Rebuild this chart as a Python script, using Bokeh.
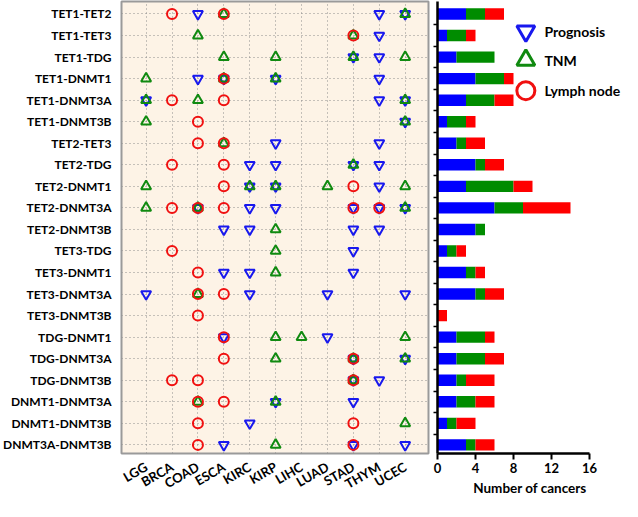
import math
from bokeh.plotting import figure
from bokeh.layouts import row
from bokeh.models import Range1d, FixedTicker, ColumnDataSource
from bokeh.embed import file_html
from bokeh.resources import INLINE
from bokeh.core.properties import value

cancers = ["LGG", "BRCA", "COAD", "ESCA", "KIRC", "KIRP", "LIHC", "LUAD", "STAD", "THYM", "UCEC"]
pairs = ["TET1-TET2", "TET1-TET3", "TET1-TDG", "TET1-DNMT1", "TET1-DNMT3A", "TET1-DNMT3B",
         "TET2-TET3", "TET2-TDG", "TET2-DNMT1", "TET2-DNMT3A", "TET2-DNMT3B",
         "TET3-TDG", "TET3-DNMT1", "TET3-DNMT3A", "TET3-DNMT3B",
         "TDG-DNMT1", "TDG-DNMT3A", "TDG-DNMT3B",
         "DNMT1-DNMT3A", "DNMT1-DNMT3B", "DNMT3A-DNMT3B"]

prognosis = [
    ["COAD", "THYM", "UCEC"],
    ["THYM"],
    ["STAD", "THYM"],
    ["COAD", "ESCA", "KIRP", "THYM"],
    ["LGG", "THYM", "UCEC"],
    ["UCEC"],
    ["KIRP", "THYM"],
    ["KIRC", "KIRP", "STAD", "THYM"],
    ["KIRC", "KIRP", "THYM"],
    ["COAD", "KIRC", "KIRP", "STAD", "THYM", "UCEC"],
    ["ESCA", "KIRC", "STAD", "THYM"],
    ["STAD"],
    ["ESCA", "KIRC", "STAD"],
    ["LGG", "KIRC", "LUAD", "UCEC"],
    [],
    ["ESCA", "LUAD"],
    ["STAD", "UCEC"],
    ["STAD", "THYM"],
    ["KIRP", "STAD"],
    ["KIRC"],
    ["ESCA", "STAD", "UCEC"],
]
tnm = [
    ["ESCA", "UCEC"],
    ["COAD", "STAD"],
    ["ESCA", "KIRP", "STAD", "UCEC"],
    ["LGG", "ESCA", "KIRP"],
    ["LGG", "COAD", "UCEC"],
    ["LGG", "UCEC"],
    ["ESCA"],
    ["STAD"],
    ["LGG", "KIRC", "KIRP", "LUAD", "UCEC"],
    ["LGG", "COAD", "UCEC"],
    ["KIRP"],
    ["KIRP"],
    ["KIRP"],
    ["COAD"],
    [],
    ["KIRP", "LIHC", "UCEC"],
    ["KIRP", "STAD", "UCEC"],
    ["STAD"],
    ["COAD", "KIRP"],
    ["UCEC"],
    ["KIRP"],
]
lymph = [
    ["BRCA", "ESCA"],
    ["STAD"],
    [],
    ["ESCA"],
    ["BRCA", "ESCA"],
    ["COAD"],
    ["COAD", "ESCA"],
    ["BRCA", "ESCA"],
    ["ESCA", "STAD"],
    ["BRCA", "COAD", "ESCA", "STAD", "THYM"],
    [],
    ["BRCA"],
    ["COAD"],
    ["COAD", "ESCA"],
    ["COAD"],
    ["ESCA"],
    ["ESCA", "STAD"],
    ["BRCA", "COAD", "STAD"],
    ["COAD", "ESCA"],
    ["COAD", "STAD"],
    ["COAD", "STAD"],
]

bar_prognosis = [3, 1, 2, 4, 3, 1, 2, 4, 3, 6, 4, 1, 3, 4, 0, 2, 2, 2, 2, 1, 3]
bar_tnm = [2, 2, 4, 3, 3, 2, 1, 1, 5, 3, 1, 1, 1, 1, 0, 3, 3, 1, 2, 1, 1]
bar_lymph = [2, 1, 0, 1, 2, 1, 2, 2, 2, 5, 0, 1, 1, 2, 1, 1, 2, 3, 2, 2, 2]

bar_ticks = [0, 4, 8, 12, 16]
legend_labels = ["Prognosis", "TNM", "Lymph node"]

BLUE = "#1818EE"
GREEN = "#108A10"
RED = "#F01010"
BAR_BLUE = "#0000FF"
BAR_GREEN = "#008C00"
BAR_RED = "#FF0000"
FONT = "Lato"

n = len(pairs)
ypos = [n - i for i in range(n)]
xpos = {c: i + 1 for i, c in enumerate(cancers)}
yr = (0.6, n + 0.58)

H = 501
BOTTOM = 44
TOP = 1
PX = 9.5  # pixels per bar unit

p1 = figure(width=431, height=H, x_range=Range1d(0.05, 11.9), y_range=Range1d(*yr),
            output_backend="svg", toolbar_location=None,
            min_border_left=99, min_border_right=3, min_border_top=TOP, min_border_bottom=BOTTOM)
p1.background_fill_color = "#FDF3E6"
p1.outline_line_color = "#9A9A9A"
p1.outline_line_width = 2

p1.xaxis.ticker = FixedTicker(ticks=list(range(1, len(cancers) + 1)))
p1.xaxis.major_label_overrides = {i + 1: c for i, c in enumerate(cancers)}
p1.yaxis.ticker = FixedTicker(ticks=ypos)
p1.yaxis.major_label_overrides = {y: pr for y, pr in zip(ypos, pairs)}
for ax in (p1.xaxis, p1.yaxis):
    ax.axis_line_color = None
    ax.major_tick_line_color = None
    ax.minor_tick_line_color = None
    ax.major_label_text_font = FONT
    ax.major_label_text_font_style = "bold"
    ax.major_label_text_color = "black"
p1.yaxis.major_label_text_font_size = "12px"
p1.yaxis.major_label_standoff = 4
p1.xaxis.major_label_text_font_size = "13px"
p1.xaxis.major_label_orientation = math.pi / 6
p1.xaxis.major_label_standoff = 6
for g in (p1.xgrid, p1.ygrid):
    g.grid_line_color = "#8C8C8C"
    g.grid_line_dash = "1 3"
    g.grid_line_width = 1


def pts(hits):
    xs, ys = [], []
    for i, lst in enumerate(hits):
        for c in lst:
            xs.append(xpos[c])
            ys.append(ypos[i])
    return xs, ys


xs, ys = pts(prognosis)
p1.scatter(xs, ys, marker="inverted_triangle", size=10, fill_color=None, line_color=BLUE, line_width=2)
xs, ys = pts(tnm)
p1.scatter(xs, ys, marker="triangle", size=10, fill_color=None, line_color=GREEN, line_width=2)
xs, ys = pts(lymph)
p1.scatter(xs, ys, marker="circle", size=10, fill_color=None, line_color=RED, line_width=2)

# Bar chart
P2W = 191
P2L = 6
p2 = figure(width=P2W, height=H, x_range=Range1d(0, (P2W - P2L) / PX), y_range=Range1d(*yr),
            output_backend="svg", toolbar_location=None,
            min_border_left=P2L, min_border_right=0, min_border_top=TOP, min_border_bottom=BOTTOM)
p2.outline_line_color = None
p2.xgrid.grid_line_color = None
p2.ygrid.grid_line_color = None

src = ColumnDataSource(dict(y=ypos, prog=bar_prognosis, tnm=bar_tnm, lymph=bar_lymph))
p2.hbar_stack(["prog", "tnm", "lymph"], y="y", height=0.53, source=src,
              color=[BAR_BLUE, BAR_GREEN, BAR_RED], line_width=0)

p2.xaxis.ticker = FixedTicker(ticks=bar_ticks)
p2.xaxis.bounds = (0, 16)
p2.xaxis.axis_line_width = 2.5
p2.xaxis.axis_line_color = "black"
p2.xaxis.major_tick_line_width = 2
p2.xaxis.major_tick_out = 6
p2.xaxis.major_tick_in = 0
p2.xaxis.minor_tick_line_color = None
p2.xaxis.major_label_text_font = FONT
p2.xaxis.major_label_text_font_style = "bold"
p2.xaxis.major_label_text_font_size = "13px"
p2.xaxis.major_label_text_color = "black"
p2.xaxis.major_label_standoff = 3
p2.xaxis.axis_label = "Number of cancers"
p2.xaxis.axis_label_text_font = FONT
p2.xaxis.axis_label_text_font_style = "bold"
p2.xaxis.axis_label_text_font_size = "13.5px"
p2.xaxis.axis_label_text_color = "black"
p2.xaxis.axis_label_standoff = 4

# row separators as minor ticks only (no labels)
p2.yaxis.ticker = FixedTicker(ticks=[], minor_ticks=[y + 0.5 for y in ypos[1:]])
p2.yaxis.major_label_standoff = 0
p2.yaxis.axis_line_width = 2.5
p2.yaxis.axis_line_color = "black"
p2.yaxis.major_tick_line_color = None
p2.yaxis.minor_tick_line_color = "black"
p2.yaxis.minor_tick_line_width = 1.5
p2.yaxis.minor_tick_out = 4
p2.yaxis.minor_tick_in = 0

# Legend
leg_y = [n - 0.8, n - 2.14, n - 3.56]
leg_markers = ["inverted_triangle", "triangle", "circle"]
leg_colors = [BLUE, GREEN, RED]
leg_mx = 9.3
leg_tx = 11.25
for yy, mk, col, lab in zip(leg_y, leg_markers, leg_colors, legend_labels):
    p2.scatter([leg_mx], [yy], marker=mk, size=18, fill_color=None, line_color=col, line_width=3)
    p2.text([leg_tx], [yy], text=[lab], text_font=value(FONT), text_font_style="bold",
            text_font_size="14px", text_baseline="middle", text_align="left", text_color="black")

layout = row(p1, p2, spacing=0)
open("out.html", "w").write(file_html(layout, INLINE))
